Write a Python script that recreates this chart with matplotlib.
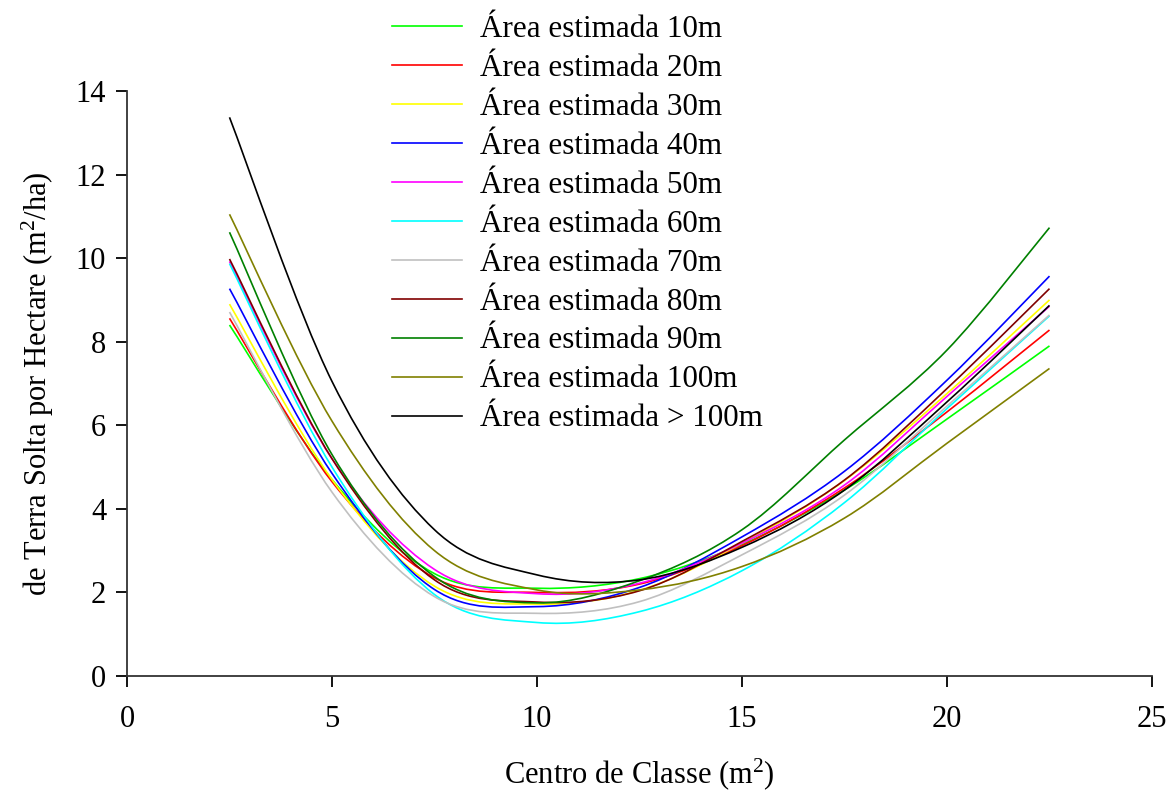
import matplotlib
matplotlib.use("Agg")
import matplotlib.pyplot as plt
from matplotlib.path import Path
from matplotlib.patches import PathPatch
from matplotlib.lines import Line2D

plt.rcParams['font.family'] = ['Liberation Serif', 'DejaVu Serif']
plt.rcParams['mathtext.fontset'] = 'custom'
plt.rcParams['mathtext.rm'] = 'Liberation Serif'
plt.rcParams['mathtext.it'] = 'Liberation Serif:italic'

x = [2.5, 5, 7.5, 10, 12.5, 15, 17.5, 20, 22.5]

area_10 = [8.40, 4.70, 2.45, 2.10, 2.33, 3.15, 4.45, 6.15, 7.90]
area_20 = [8.56, 4.65, 2.35, 2.00, 2.20, 3.12, 4.50, 6.32, 8.28]
area_30 = [8.90, 4.70, 2.15, 1.72, 2.05, 3.18, 4.68, 6.76, 9.00]
area_40 = [9.27, 4.85, 2.07, 1.66, 2.12, 3.33, 4.90, 7.08, 9.57]
area_50 = [9.92, 5.20, 2.55, 1.97, 2.22, 3.18, 4.57, 6.69, 8.85]
area_60 = [9.87, 5.00, 1.95, 1.28, 1.54, 2.52, 4.15, 6.40, 8.62]
area_70 = [8.71, 4.40, 1.90, 1.50, 1.78, 2.90, 4.33, 6.46, 8.64]
area_80 = [9.98, 5.20, 2.30, 1.77, 2.04, 3.22, 4.69, 6.88, 9.27]
area_90 = [10.62, 5.30, 2.38, 1.75, 2.28, 3.50, 5.65, 7.80, 10.73]
area_100 = [11.05, 6.10, 3.00, 2.06, 2.06, 2.62, 3.78, 5.57, 7.36]
area_gt100 = [13.37, 7.05, 3.50, 2.42, 2.30, 3.08, 4.45, 6.56, 8.87]

labels = ["Área estimada 10m", "Área estimada 20m", "Área estimada 30m",
          "Área estimada 40m", "Área estimada 50m", "Área estimada 60m",
          "Área estimada 70m", "Área estimada 80m", "Área estimada 90m",
          "Área estimada 100m", "Área estimada > 100m"]
series = [area_10, area_20, area_30, area_40, area_50, area_60, area_70,
          area_80, area_90, area_100, area_gt100]
colors = ["#00FF00", "#FF0000", "#FFFF00", "#0000FF", "#FF00FF", "#00FFFF",
          "#C0C0C0", "#800000", "#008000", "#808000", "#000000"]


def smoothed_path(xs, ys):
    """Spreadsheet-style smoothed line (Catmull-Rom Bezier) through the data points."""
    pts = list(zip(xs, ys))
    n = len(pts)
    verts = [pts[0]]
    codes = [Path.MOVETO]
    for i in range(n - 1):
        p0 = pts[i - 1] if i > 0 else pts[i]
        p1 = pts[i]
        p2 = pts[i + 1]
        p3 = pts[i + 2] if i + 2 < n else pts[i + 1]
        c1 = (p1[0] + (p2[0] - p0[0]) / 6, p1[1] + (p2[1] - p0[1]) / 6)
        c2 = (p2[0] - (p3[0] - p1[0]) / 6, p2[1] - (p3[1] - p1[1]) / 6)
        verts += [c1, c2, p2]
        codes += [Path.CURVE4] * 3
    return Path(verts, codes)


fig = plt.figure(figsize=(11.76, 8.02), dpi=100)
ax = fig.add_axes([127/1176, 1-676/802, (1152-127)/1176, (676-91)/802])

handles = []
for ys, c, lab in zip(series, colors, labels):
    patch = PathPatch(smoothed_path(x, ys), fill=False, edgecolor=c, lw=1.2,
                      transform=ax.transData)
    ax.add_patch(patch)
    handles.append(Line2D([], [], color=c, lw=1.2, label=lab))

ax.set_xlim(0, 25)
ax.set_ylim(0, 14)
ax.set_xticks([0, 5, 10, 15, 20, 25])
ax.set_yticks([0, 2, 4, 6, 8, 10, 12, 14])
for s in ['top', 'right']:
    ax.spines[s].set_visible(False)
for s in ['left', 'bottom']:
    ax.spines[s].set_linewidth(1.3)
    ax.spines[s].set_color('#333333')
ax.tick_params(direction='out', length=8, width=1.3, labelsize=22)
ax.tick_params(axis='x', pad=13)
ax.tick_params(axis='y', pad=7)

ax.set_xlabel("Centro de Classe (m$^{2}$)", fontsize=22, labelpad=16)
ax.set_ylabel("de Terra Solta por Hectare (m$^{2}$/ha)", fontsize=22, labelpad=14)

fig.legend(handles=handles, loc='upper left', bbox_to_anchor=(392/1176, 0.9815),
           frameon=False, fontsize=22.4, handlelength=2.25, handletextpad=0.58,
           labelspacing=0.32, borderpad=0, borderaxespad=0)

fig.savefig("out.png", dpi=100)
